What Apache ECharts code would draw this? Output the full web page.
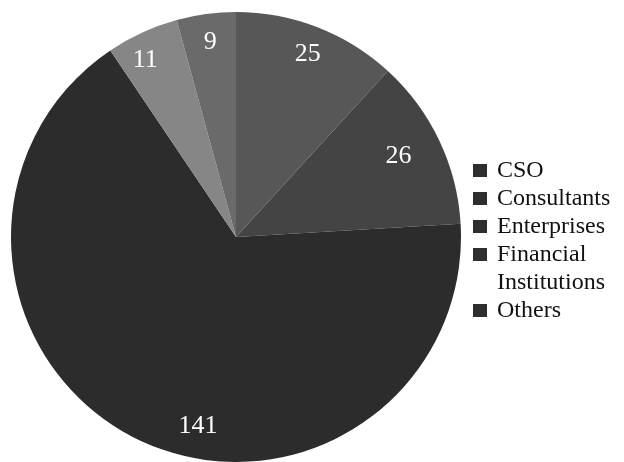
<!DOCTYPE html>
<html><head><meta charset="utf-8">
<script src="https://cdn.jsdelivr.net/npm/echarts@6/dist/echarts.min.js"></script>
<style>html,body{margin:0;padding:0;background:#fff}#c{width:624px;height:462px}</style>
</head><body><div id="c"></div>
<script>
const categories = ['CSO', 'Consultants', 'Enterprises', 'Financial Institutions', 'Others'];
const legendLines = [['CSO'], ['Consultants'], ['Enterprises'], ['Financial', 'Institutions'], ['Others']];
const values = [25, 26, 141, 11, 9];
const colors = ['#575757', '#444444', '#2c2c2c', '#868686', '#6a6a6a'];
const labelOffsets = [[-1, 5], [-19, 6], [51, 9], [-7, 6], [1, 4]];

const FONT = '"Liberation Serif", "Times New Roman", serif';
const chart = echarts.init(document.getElementById('c'), null, {renderer: 'canvas'});

const center = [236, 237];
const R = 225;

const graphics = [];
let y = 171;
const lineH = 28;
legendLines.forEach((lines, i) => {
  graphics.push({type: 'rect', left: 473, top: y - 7, shape: {width: 14, height: 13}, style: {fill: '#2e2e2e'}, silent: true});
  lines.forEach((t, j) => {
    graphics.push({type: 'text', x: 497, y: y + j * lineH, style: {text: t, fill: '#111', fontFamily: FONT, fontSize: 24, verticalAlign: 'middle', align: 'left'}, silent: true});
  });
  y += lines.length * lineH;
});

chart.setOption({
  animation: false,
  backgroundColor: '#fff',
  graphic: graphics,
  series: [
    {
      type: 'pie', center: center, radius: [0, R], startAngle: 90, clockwise: true,
      label: {show: false}, labelLine: {show: false}, silent: true,
      data: categories.map((c, i) => ({name: c, value: values[i], itemStyle: {color: colors[i]}}))
    },
    {
      type: 'pie', center: center, radius: [R * 0.76, R], startAngle: 90, clockwise: true, silent: true,
      itemStyle: {color: 'rgba(0,0,0,0)'},
      label: {show: true, position: 'inside', formatter: '{c}', color: '#fff', fontFamily: FONT, fontSize: 26},
      labelLine: {show: false},
      data: categories.map((c, i) => ({name: c, value: values[i], label: {offset: labelOffsets[i]}}))
    }
  ]
});
</script></body></html>
